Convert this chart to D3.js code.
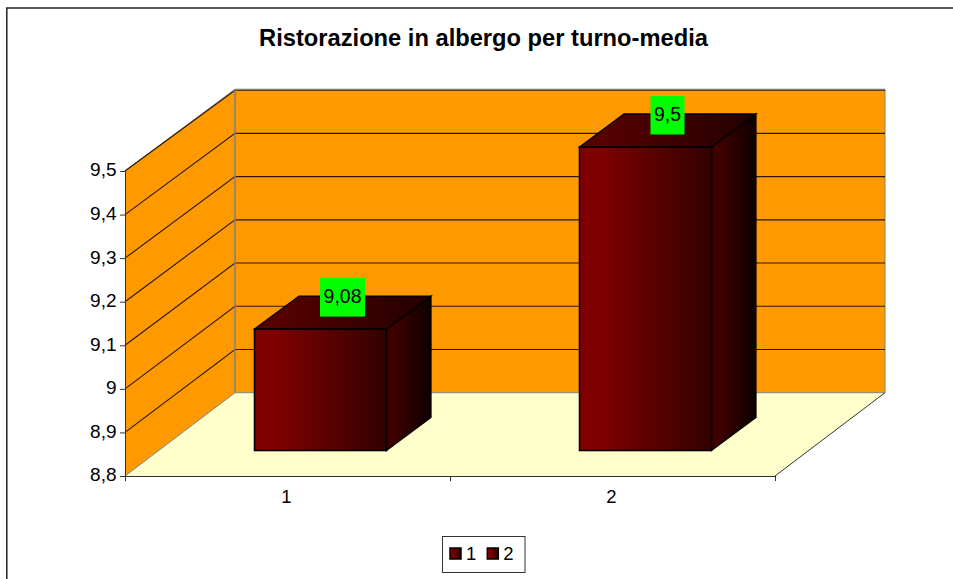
<!DOCTYPE html>
<html>
<head>
<meta charset="utf-8">
<script src="https://cdn.jsdelivr.net/npm/d3@7"></script>
<style>
    html, body { margin: 0; padding: 0; background: #fff; overflow: hidden; }
    text { font-family: "Liberation Sans", Arial, sans-serif; fill: #000; }
</style>
</head>
<body>
<div id="chart"></div>
<script>
    var chartTitle = "Ristorazione in albergo per turno-media";
    var categories = ["1", "2"];
    var seriesValues = [9.08, 9.5];
    var barLabels = ["9,08", "9,5"];
    var yTicks = [8.8, 8.9, 9, 9.1, 9.2, 9.3, 9.4, 9.5];
    var yTickLabels = ["8,8", "8,9", "9", "9,1", "9,2", "9,3", "9,4", "9,5"];

    var width = 953, height = 579;
    var depthX = 110;                    // back wall offset from the front plane
    var barDepth = {x: 44.5, y: -33};    // bar thickness
    var barShift = {x: 33, y: -25.5};    // bars sit inside the floor

    var x = d3.scaleBand().domain(categories).range([125, 775]).paddingInner(0.594).paddingOuter(0.297);
    var y = d3.scaleLinear().domain([8.8, 9.5]).range([476, 171]);
    // back wall is drawn a bit smaller than the front axis
    var yBack = d3.scaleLinear().domain([8.8, 9.5]).range([392.7, 90.2]);
    var barHeight = d3.scaleLinear().domain([8.8, 9.5]).range([0, 303.5]);

    var svg = d3.select("#chart").append("svg")
        .attr("width", width).attr("height", height)
        .style("display", "block");

    var defs = svg.append("defs");
    function gradient(id, from, to) {
        var g = defs.append("linearGradient").attr("id", id);
        g.append("stop").attr("offset", "0%").attr("stop-color", from);
        g.append("stop").attr("offset", "15%").attr("stop-color", from);
        g.append("stop").attr("offset", "100%").attr("stop-color", to);
    }
    gradient("front", "#800000", "#330000");
    gradient("top", "#560000", "#220000");
    gradient("side", "#400000", "#0d0000");
    gradient("key", "#800000", "#300000");

    // outer frame
    svg.append("rect").attr("x", 6.8).attr("y", 8)
        .attr("width", 960).attr("height", 580)
        .attr("fill", "#fff").attr("stroke", "#222").attr("stroke-width", 1.5);

    svg.append("text").attr("x", 483.5).attr("y", 46)
        .attr("text-anchor", "middle")
        .style("font-size", "23.7px").style("font-weight", "bold")
        .text(chartTitle);

    var x0 = x.range()[0], x1 = x.range()[1];
    var bx0 = x0 + depthX, bx1 = x1 + depthX;
    var yBase = y(8.8), yTop = y(9.5);
    var backBase = yBack(8.8), backTop = yBack(9.5);
    var wallLine = d3.line();

    // side wall
    svg.append("path")
        .attr("d", wallLine([[x0, yBase], [x0, yTop], [bx0, backTop], [bx0, backBase]]) + "Z")
        .attr("fill", "#ff9900");
    // back wall
    svg.append("rect")
        .attr("x", bx0).attr("y", backTop)
        .attr("width", x1 - x0).attr("height", backBase - backTop)
        .attr("fill", "#ff9900");
    // floor
    svg.append("path")
        .attr("d", wallLine([[x0, yBase], [bx0, backBase], [bx1, backBase], [x1, yBase]]) + "Z")
        .attr("fill", "#ffffcc");

    // wall outlines
    svg.append("path")
        .attr("d", wallLine([[x0, yTop], [bx0, backTop - 1], [bx1, backTop - 1], [bx1, backBase], [bx0, backBase], [x0, yBase]]))
        .attr("fill", "none").attr("stroke", "#808080").attr("stroke-width", 1);

    // gridlines, on wall and back
    svg.append("g").selectAll("path").data(yTicks.slice(1)).join("path")
        .attr("d", function (d) {
            return wallLine([[x0, y(d)], [bx0, yBack(d)], [bx1, yBack(d)]]);
        })
        .attr("fill", "none").attr("stroke", "#2a1800").attr("stroke-width", 1.1);

    svg.append("line")
        .attr("x1", bx0).attr("x2", bx0)
        .attr("y1", backTop - 1).attr("y2", backBase)
        .attr("stroke", "#808080").attr("stroke-width", 1.5);
    svg.append("line")
        .attr("x1", x1).attr("x2", bx1)
        .attr("y1", yBase).attr("y2", backBase)
        .attr("stroke", "#333").attr("stroke-width", 1);

    // bars
    var bars = svg.append("g").selectAll("g").data(seriesValues).join("g");
    function barBox(v, i) {
        var left = x(categories[i]) + barShift.x;
        var bottom = yBase + barShift.y;
        return {left: left, right: left + x.bandwidth(), bottom: bottom, top: bottom - barHeight(v)};
    }
    bars.append("path")
        .attr("d", function (v, i) {
            var b = barBox(v, i);
            return wallLine([[b.right, b.bottom], [b.right, b.top], [b.right + barDepth.x, b.top + barDepth.y], [b.right + barDepth.x, b.bottom + barDepth.y]]) + "Z";
        })
        .attr("fill", "url(#side)").attr("stroke", "#000").attr("stroke-width", 1.3);
    bars.append("path")
        .attr("d", function (v, i) {
            var b = barBox(v, i);
            return wallLine([[b.left, b.top], [b.left + barDepth.x, b.top + barDepth.y], [b.right + barDepth.x, b.top + barDepth.y], [b.right, b.top]]) + "Z";
        })
        .attr("fill", "url(#top)").attr("stroke", "#000").attr("stroke-width", 1.3);
    bars.append("rect")
        .attr("x", function (v, i) { return barBox(v, i).left; })
        .attr("y", function (v, i) { return barBox(v, i).top; })
        .attr("width", x.bandwidth())
        .attr("height", function (v) { return barHeight(v); })
        .attr("fill", "url(#front)").attr("stroke", "#000").attr("stroke-width", 1.6);

    // data labels, green boxes
    var labels = svg.append("g").selectAll("g").data(barLabels).join("g")
        .attr("transform", function (d, i) {
            var b = barBox(seriesValues[i], i);
            return "translate(" + ((b.left + b.right) / 2 + 22) + "," + (b.top + barDepth.y / 2 - 15.5) + ")";
        });
    labels.append("rect")
        .attr("x", function (d) { return d.length > 3 ? -22.5 : -17; })
        .attr("y", -19)
        .attr("width", function (d) { return d.length > 3 ? 45 : 34; })
        .attr("height", 38.5)
        .attr("fill", "#00ff00");
    labels.append("text")
        .attr("text-anchor", "middle").attr("y", 5.5)
        .style("font-size", "19.5px")
        .text(function (d) { return d; });

    // y axis, drawn with d3.axisLeft
    var yAxis = svg.append("g")
        .attr("transform", "translate(" + x0 + ",0)")
        .call(d3.axisLeft(y).tickValues(yTicks).tickSize(5).tickPadding(3.5)
            .tickFormat(function (d, i) { return yTickLabels[i]; }));
    yAxis.selectAll("text").style("font-size", "19px").attr("dy", "0.26em");
    yAxis.selectAll("line, path").attr("stroke", "#333");

    // x axis
    var xEdges = d3.scaleLinear().domain([0, categories.length]).range([x0, x1]);
    var xAxis = svg.append("g")
        .attr("transform", "translate(0," + yBase + ")")
        .call(d3.axisBottom(xEdges).ticks(categories.length).tickSize(5).tickFormat(""));
    xAxis.selectAll("line, path").attr("stroke", "#333");
    svg.append("g").selectAll("text").data(categories).join("text")
        .attr("x", function (d) { return x(d) + x.bandwidth() / 2 - 1; })
        .attr("y", 503)
        .attr("text-anchor", "middle")
        .style("font-size", "18.5px")
        .text(function (d) { return d; });

    // legend
    var legend = svg.append("g");
    legend.append("rect").attr("x", 442.5).attr("y", 536.5).attr("width", 82.5).attr("height", 36)
        .attr("fill", "#fff").attr("stroke", "#333").attr("stroke-width", 1);
    var keys = legend.selectAll("g").data(categories).join("g")
        .attr("transform", function (d, i) { return "translate(" + (450 + i * 37.3) + ",0)"; });
    keys.append("rect").attr("x", 0).attr("y", 548).attr("width", 11).attr("height", 11)
        .attr("fill", "url(#key)").attr("stroke", "#000").attr("stroke-width", 1.5);
    keys.append("text").attr("x", 16).attr("y", 560)
        .style("font-size", "18.5px")
        .text(function (d) { return d; });
</script>
</body>
</html>
